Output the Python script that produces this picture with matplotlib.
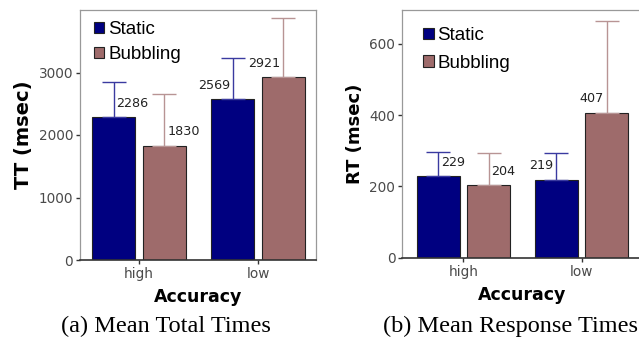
import matplotlib
matplotlib.use('Agg')
import matplotlib.pyplot as plt
import numpy as np

# data
groups = ['high', 'low']
series = ['Static', 'Bubbling']
tt_mean = {'Static': [2286, 2569], 'Bubbling': [1830, 2921]}
tt_err = {'Static': [567, 658], 'Bubbling': [831, 946]}
rt_mean = {'Static': [229, 219], 'Bubbling': [204, 407]}
rt_err = {'Static': [68, 75], 'Bubbling': [90, 257]}

bar_colors = {'Static': '#000080', 'Bubbling': '#9e6b6b'}
err_colors = {'Static': '#3a3aa0', 'Bubbling': '#b89494'}
offsets = {'Static': -0.213, 'Bubbling': 0.213}
label_side = ['right', 'left']   # label to the right of the whisker for "high", left for "low"

W, H = 639, 337
fig = plt.figure(figsize=(W / 100, H / 100), dpi=100)


def panel(rect, means, errs, ylim, yticks, ylabel, ylab_size, xlim, leg_anchor, leg_space):
    ax = fig.add_axes(rect)
    x = np.arange(len(groups))
    for s in series:
        xs = x + offsets[s]
        ax.bar(xs, means[s], width=0.362, color=bar_colors[s],
               edgecolor='#222222', linewidth=0.8, label=s, zorder=2)
        ax.errorbar(xs, means[s], yerr=[np.zeros(len(groups)), errs[s]],
                    fmt='none', ecolor=err_colors[s], elinewidth=1.0,
                    capsize=8.5, capthick=1.0, zorder=3)
        for i, (xx, v) in enumerate(zip(xs, means[s])):
            if label_side[i] == 'right':
                ax.annotate(str(v), (xx, v), xytext=(2, 10), textcoords='offset points',
                            ha='left', va='center', fontsize=9.2, color='#222222')
            else:
                ax.annotate(str(v), (xx, v), xytext=(-2, 10), textcoords='offset points',
                            ha='right', va='center', fontsize=9.2, color='#222222')
    ax.set_xlim(*xlim)
    ax.set_ylim(*ylim)
    ax.set_yticks(yticks)
    ax.set_xticks(x)
    ax.set_xticklabels(groups)
    ax.tick_params(axis='both', labelsize=9.8, labelcolor='#4a4a4a', length=3,
                   width=1, color='#333333', pad=2)
    for sp in ['top', 'right', 'left']:
        ax.spines[sp].set_color('#999999')
        ax.spines[sp].set_linewidth(0.9)
    ax.spines['bottom'].set_color('#333333')
    ax.spines['bottom'].set_linewidth(1.2)
    ax.set_xlabel('Accuracy', fontsize=12.5, fontweight='bold', labelpad=5)
    ax.set_ylabel(ylabel, fontsize=ylab_size, fontweight='bold', labelpad=4)
    ax.legend(loc='upper left', bbox_to_anchor=leg_anchor, frameon=False,
              prop={'family': 'Liberation Sans', 'size': 13.5},
              handlelength=0.55, handleheight=0.55, handletextpad=0.2,
              labelspacing=leg_space, borderpad=0, borderaxespad=0)
    return ax


panel([80 / W, 77 / H, 236 / W, 250 / H], tt_mean, tt_err, (0, 4000),
      [0, 1000, 2000, 3000], 'TT (msec)', 14, (-0.496, 1.486), (0.06, 0.955), 0.42)
panel([402.3 / W, 79.3 / H, 238.7 / W, 247.7 / H], rt_mean, rt_err, (0, 695),
      [0, 200, 400, 600], 'RT (msec)', 13, (-0.516, 1.502), (0.088, 0.93), 0.55)

fig.text(166 / W, 11 / H, '(a) Mean Total Times', ha='center', va='center',
         fontsize=17.5, family='Liberation Serif')
fig.text(638 / W, 11 / H, '(b) Mean Response Times', ha='right', va='center',
         fontsize=17.5, family='Liberation Serif')

fig.savefig('out.png', dpi=100)
